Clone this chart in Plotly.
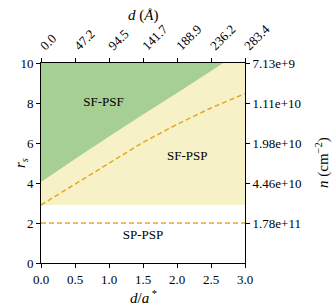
import plotly.graph_objects as go

# Data
boundary_x = [0.0, 0.5, 1.0, 1.5, 2.0, 2.5, 2.68]
boundary_rs = [4.05, 5.2, 6.33, 7.43, 8.5, 9.6, 10.0]
dashed_x = [0.0, 0.5, 1.0, 1.5, 2.0, 2.5, 3.0]
dashed_rs = [2.9, 3.95, 4.98, 6.03, 6.93, 7.75, 8.47]
lower_rs = 2.9
sp_rs = 2.0
x_ticks = [0.0, 0.5, 1.0, 1.5, 2.0, 2.5, 3.0]
top_ticklabels = ["0.0", "47.2", "94.5", "141.7", "188.9", "236.2", "283.4"]
right_tickvals = [10, 8, 6, 4, 2]
right_ticklabels = ["7.13e+9", "1.11e+10", "1.98e+10", "4.46e+10", "1.78e+11"]
region_labels = ["SF-PSF", "SF-PSP", "SP-PSP"]
region_x = [0.92, 2.15, 1.5]
region_y = [8.03, 5.33, 1.38]

GREEN = "#a6cf94"
YELLOW = "#f6f1c6"
ORANGE = "#e5a823"
FONT = "Liberation Serif"

fig = go.Figure()
fig.add_trace(go.Scatter(x=[0, 3, 3, 0, 0], y=[lower_rs, lower_rs, 10, 10, lower_rs],
                         fill="toself", fillcolor=YELLOW, mode="none",
                         showlegend=False, hoverinfo="skip"))
fig.add_trace(go.Scatter(x=boundary_x + [0, 0], y=boundary_rs + [10, boundary_rs[0]],
                         fill="toself", fillcolor=GREEN, mode="none",
                         showlegend=False, hoverinfo="skip"))
fig.add_trace(go.Scatter(x=dashed_x, y=dashed_rs, mode="lines",
                         line=dict(color=ORANGE, width=1.5, dash="5px,3px"),
                         showlegend=False))
fig.add_trace(go.Scatter(x=[0, 3], y=[sp_rs, sp_rs], mode="lines",
                         line=dict(color=ORANGE, width=1.5, dash="5px,3px"),
                         showlegend=False))
fig.add_trace(go.Scatter(x=[0, 3], y=[0, 10], xaxis="x2", yaxis="y2", mode="markers",
                         marker=dict(opacity=0), showlegend=False, hoverinfo="skip"))
fig.add_trace(go.Scatter(x=region_x, y=region_y, text=region_labels, mode="text",
                         textfont=dict(family=FONT, size=13, color="black"),
                         showlegend=False, hoverinfo="skip"))

axis_common = dict(showline=True, linecolor="black", linewidth=1, ticks="outside",
                   ticklen=4, tickcolor="black", showgrid=False, zeroline=False,
                   automargin=False,
                   tickfont=dict(family=FONT, size=13, color="black"))

TF = dict(family=FONT, size=15, color="black")

fig.update_layout(
    width=332, height=307,
    margin=dict(l=41, r=87, t=63, b=44),
    paper_bgcolor="white", plot_bgcolor="white",
    font=dict(family=FONT, color="black"),
    xaxis=dict(range=[0, 3], tickvals=x_ticks, ticktext=[f"{v:.1f}" for v in x_ticks],
               **axis_common),
    yaxis=dict(range=[0, 10], tickvals=[0, 2, 4, 6, 8, 10], **axis_common),
    xaxis2=dict(range=[0, 3], overlaying="x", side="top", tickvals=x_ticks,
                ticktext=top_ticklabels, tickangle=-45, **axis_common),
    yaxis2=dict(range=[0, 10], overlaying="y", side="right", tickvals=right_tickvals,
                ticktext=right_ticklabels, **axis_common),
    annotations=[
        dict(text="<i>d</i>/<i>a</i><sup> *</sup>", xref="paper", yref="paper",
             x=0.5, y=0.0, yshift=-34, xanchor="center", yanchor="middle",
             showarrow=False, font=TF),
        dict(text="<i>r</i><sub><i>s</i></sub>", xref="paper", yref="paper",
             x=0.0, xshift=-20, y=0.5, xanchor="center", yanchor="middle", showarrow=False,
             textangle=-90, font=TF),
        dict(text="<i>d</i> (<i>Å</i>)", xref="paper", yref="paper",
             x=0.5, y=1.0, yshift=48, xanchor="center", yanchor="middle", showarrow=False,
             font=TF),
        dict(text="<i>n</i> (cm<sup>−2</sup>)", xref="paper", yref="paper",
             x=1.0, xshift=77, y=0.5, xanchor="center", yanchor="middle", showarrow=False,
             textangle=-90, font=TF),
    ],
)

fig.write_html("out.html", config={"displayModeBar": False},
               post_script="document.body.style.margin='0';")
